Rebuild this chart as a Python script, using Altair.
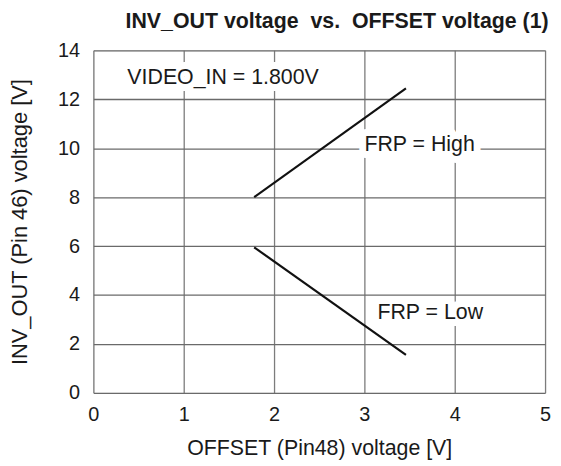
import altair as alt
import pandas as pd

# Data
offset_v = [1.78, 3.46]
inv_out_high = [8.0, 12.45]
inv_out_low = [5.95, 1.55]

label_text = ["VIDEO_IN = 1.800V", "FRP = High", "FRP = Low"]
label_x = [0.376, 3.0, 3.144]
label_y = [12.88, 10.14, 3.25]

x_ticks = [0, 1, 2, 3, 4, 5]
y_ticks = [0, 2, 4, 6, 8, 10, 12, 14]

lines = pd.DataFrame({
    "x": offset_v + offset_v,
    "y": inv_out_high + inv_out_low,
    "series": ["High"] * 2 + ["Low"] * 2,
})
labels = pd.DataFrame({"x": label_x, "y": label_y, "text": label_text})

FONT = "Liberation Sans"

xscale = alt.Scale(domain=[0, 5], nice=False, zero=False)
yscale = alt.Scale(domain=[0, 14], nice=False, zero=False)

x_axis = alt.Axis(
    title="OFFSET (Pin48) voltage [V]", values=x_ticks, format="d", ticks=False, domain=False,
    grid=True, gridColor="#7c7c7c", gridWidth=1.3,
    labelFont=FONT, labelFontSize=20, labelColor="#1a1a1a", labelPadding=12,
    titleFont=FONT, titleFontSize=21.5, titleFontWeight="normal", titleColor="#1a1a1a",
    titlePadding=13, labelFlush=False,
)
y_axis = alt.Axis(
    title="INV_OUT (Pin 46) voltage [V]", values=y_ticks, format="d", ticks=False, domain=False,
    grid=True, gridColor="#6a6a6a", gridWidth=1.3,
    labelFont=FONT, labelFontSize=20, labelColor="#1a1a1a", labelPadding=14,
    titleFont=FONT, titleFontSize=22, titleFontWeight="normal", titleColor="#1a1a1a",
    titlePadding=26, labelFlush=False,
)

base_lines = alt.Chart(lines).mark_line(color="#111111", strokeWidth=2.2).encode(
    x=alt.X("x:Q", scale=xscale, axis=x_axis),
    y=alt.Y("y:Q", scale=yscale, axis=y_axis),
    detail="series:N",
)

halo = alt.Chart(labels).mark_text(
    font=FONT, fontSize=21.5, align="left", baseline="middle",
    color="white", stroke="white", strokeWidth=14, strokeJoin="round",
).encode(x=alt.X("x:Q", scale=xscale), y=alt.Y("y:Q", scale=yscale), text="text:N")

texts = alt.Chart(labels).mark_text(
    font=FONT, fontSize=21.5, align="left", baseline="middle", color="#1a1a1a",
).encode(x=alt.X("x:Q", scale=xscale), y=alt.Y("y:Q", scale=yscale), text="text:N")

chart = alt.layer(halo, base_lines, texts).properties(
    width=455,
    height=345,
    autosize=alt.AutoSizeParams(type="none"),
    padding={"left": 86, "top": 41, "right": 8, "bottom": 72},
    title=alt.TitleParams(
        "INV_OUT voltage \u00a0vs. \u00a0OFFSET voltage (1)",
        font=FONT, fontSize=21.5, fontWeight="bold", color="#1a1a1a",
        anchor="middle", dx=18, offset=8,
    ),
).configure_view(stroke="#333333", strokeWidth=1.8).configure(background="white")

chart.save("out.html", embed_options={"renderer": "svg", "actions": False})
